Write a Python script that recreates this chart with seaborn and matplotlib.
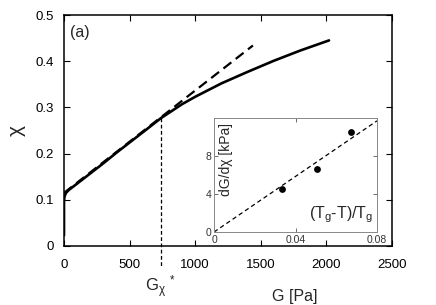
import matplotlib
matplotlib.use("Agg")
import matplotlib.pyplot as plt
import seaborn as sns
import pandas as pd

# ---- data ----
G_curve = [0, 0, 5, 15, 40, 100, 200, 300, 400, 500, 600, 740, 900, 1000, 1200, 1400, 1600, 1800, 2020]
chi_curve = [0.023, 0.099, 0.108, 0.115, 0.122, 0.135, 0.157, 0.179, 0.202, 0.224, 0.246, 0.277,
             0.307, 0.323, 0.352, 0.377, 0.401, 0.423, 0.445]
G_tangent = [0, 1440]
chi_tangent = [0.115, 0.434]
G_star = 740
chi_star = 0.278

inset_x = [0.0335, 0.0505, 0.067]
inset_y = [4.5, 6.6, 10.5]
inset_fit_x = [0, 0.08]
inset_fit_y = [0, 11.7]

main_xticks = [0, 500, 1000, 1500, 2000, 2500]
main_yticks = [0, 0.1, 0.2, 0.3, 0.4, 0.5]
main_yticklabels = ["0", "0.1", "0.2", "0.3", "0.4", "0.5"]
inset_xticks = [0, 0.04, 0.08]
inset_xticklabels = ["0", "0.04", "0.08"]
inset_yticks = [0, 4, 8]

sns.set_style("ticks")
plt.rcParams['font.family'] = ['Liberation Sans', 'DejaVu Sans']
plt.rcParams['mathtext.fontset'] = 'custom'
plt.rcParams['mathtext.rm'] = 'Liberation Sans'
plt.rcParams['mathtext.it'] = 'Liberation Sans'
plt.rcParams['mathtext.default'] = 'regular'

fig = plt.figure(figsize=(4.36, 3.05), dpi=100)
ax = fig.add_axes([64/436, 1-246/305, (392-64)/436, (246-15)/305])

df_curve = pd.DataFrame({"G": G_curve, "chi": chi_curve})
df_tan = pd.DataFrame({"G": G_tangent, "chi": chi_tangent})
sns.lineplot(data=df_curve, x="G", y="chi", ax=ax, color="black", lw=1.9,
             estimator=None, sort=False)
sns.lineplot(data=df_tan, x="G", y="chi", ax=ax, color="black", lw=1.6,
             estimator=None, sort=False)
ax.lines[-1].set_dashes((4.5, 2.5))

# vertical dashed marker at G*
ax.plot([G_star, G_star], [chi_star, -0.048], color="black", lw=0.9,
        dashes=(3, 2), clip_on=False)
ax.text(G_star, -0.089, r"G$_{\chi}$$^{\ *}$", ha="center", va="center", fontsize=12)

ax.set_xlim(0, 2500)
ax.set_ylim(0, 0.5)
ax.set_xticks(main_xticks)
ax.set_yticks(main_yticks)
ax.set_yticklabels(main_yticklabels)
ax.tick_params(direction="in", length=4, width=0.8, top=True, right=True,
               labelsize=9.5, pad=7, colors="black")
ax.tick_params(axis="x", pad=9)
for s in ax.spines.values():
    s.set_linewidth(1.1)
    s.set_color("black")
ax.set_xlabel("G [Pa]", fontsize=11.5)
ax.xaxis.set_label_coords((295-64)/328, -0.185)
ax.set_ylabel("χ", fontsize=15, rotation=90)
ax.yaxis.set_label_coords(-0.115, 0.5)
ax.text(0.018, 0.925, "(a)", transform=ax.transAxes, fontsize=11.5, va="center")

# ---- inset ----
axi = fig.add_axes([214/436, 1-232/305, (377-214)/436, (232-118)/305])
df_in = pd.DataFrame({"x": inset_x, "y": inset_y})
df_fit = pd.DataFrame({"x": inset_fit_x, "y": inset_fit_y})
sns.lineplot(data=df_fit, x="x", y="y", ax=axi, color="black", lw=0.9,
             estimator=None, sort=False)
axi.lines[-1].set_dashes((3.5, 2.5))
sns.scatterplot(data=df_in, x="x", y="y", ax=axi, color="black", s=24,
                edgecolor="black", linewidth=0, zorder=3)
axi.set_xlim(0, 0.08)
axi.set_ylim(0, 12)
axi.set_xticks(inset_xticks)
axi.set_xticklabels(inset_xticklabels)
axi.set_yticks(inset_yticks)
axi.tick_params(direction="in", length=3, width=0.6, top=True, right=True,
                labelsize=7.5, pad=2, colors="#555555", labelcolor="#333333")
for s in axi.spines.values():
    s.set_linewidth(0.7)
    s.set_color("#888888")
axi.set_xlabel("")
axi.set_ylabel("")
axi.text(0.075, 0.635, "dG/dχ [kPa]", transform=axi.transAxes, rotation=90,
         ha="center", va="center", fontsize=10)
axi.text(0.975, 0.155, r"(T$_g$-T)/T$_g$", transform=axi.transAxes,
         ha="right", va="center", fontsize=11.5)

fig.savefig("out.png", dpi=100)
